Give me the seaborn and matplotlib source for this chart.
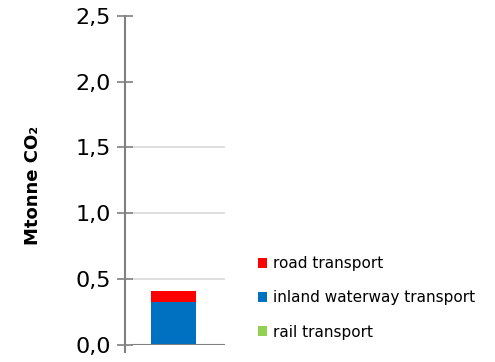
import matplotlib
matplotlib.use("Agg")
import matplotlib.pyplot as plt
import seaborn as sns
import pandas as pd
from matplotlib.patches import Patch

# Emissions by transport mode (Mtonne CO2), stacked bottom to top
modes = ["rail transport", "inland waterway transport", "road transport"]
values = [0.0, 0.33, 0.08]
colors = ["#92D050", "#0070C0", "#FF0000"]
category = [""]
yticks = [0.0, 0.5, 1.0, 1.5, 2.0, 2.5]
ytick_labels = ["0,0", "0,5", "1,0", "1,5", "2,0", "2,5"]

sns.set_style("white")
plt.rcParams["font.family"] = ["DejaVu Sans"]
plt.rcParams["text.color"] = "black"

fig = plt.figure(figsize=(4.95, 3.62), dpi=100)
ax = fig.add_axes([0.2525, 0.047, 0.202, 0.9095])

# light gridlines, starting just right of the axis
for y in yticks[1:4]:
    ax.axhline(y, xmin=0.07, xmax=1.0, color="#D9D9D9", lw=1.2, zorder=0)

bottom = 0.0
for mode, val, col in zip(modes, values, colors):
    df = pd.DataFrame({"cat": category, "val": [val]})
    sns.barplot(data=df, x="cat", y="val", color=col, bottom=bottom,
                width=0.45, ax=ax, saturation=1, zorder=2, linewidth=0)
    bottom += val

ax.axhline(0, xmin=0.07, xmax=1.0, color="#808080", lw=1.5, zorder=3)

ax.set_xlim(-0.485, 0.515)
ax.set_ylim(0, 2.5)
ax.set_yticks(yticks)
ax.set_yticklabels(ytick_labels, fontsize=16, color="black")
ax.set_xticks([])
ax.set_xlabel("")
ax.set_ylabel("Mtonne CO₂", fontsize=13, fontweight="bold", color="black")
ax.yaxis.set_label_coords(-0.83, 0.486)
ax.tick_params(axis="y", left=True, direction="inout", length=12, width=1.2,
               color="#808080", pad=4)
for s in ["top", "right", "bottom"]:
    ax.spines[s].set_visible(False)
ax.spines["left"].set_color("#808080")
ax.spines["left"].set_linewidth(1.5)
ax.spines["left"].set_bounds(-0.05, 2.5)
ax.spines["left"].set_clip_on(False)

handles = [Patch(facecolor=c, edgecolor="none") for c in colors[::-1]]
fig.legend(handles, modes[::-1], loc="upper left",
           bbox_to_anchor=(0.505, 0.313), frameon=False, fontsize=11,
           handlelength=0.6, handleheight=0.6, handletextpad=0.4,
           labelspacing=1.25, borderpad=0, labelcolor="black")

fig.savefig("out.png", dpi=100)
